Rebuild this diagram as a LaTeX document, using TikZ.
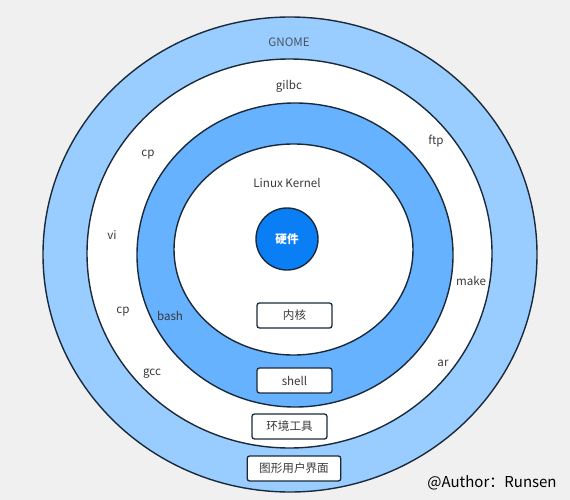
\documentclass[tikz,border=0pt]{standalone}
\usepackage{fontspec}
\setmainfont{Noto Sans CJK SC}
\usepackage{xcolor}
\definecolor{paper}{HTML}{F0F0F0}
\definecolor{edge}{HTML}{1B2A3A}
\definecolor{lightblue}{HTML}{99CCFF}
\definecolor{midblue}{HTML}{66B2FF}
\definecolor{hwblue}{HTML}{0A7FF5}
\definecolor{txt}{HTML}{3A3A3A}
\tikzset{
  ring/.style={draw=edge,line width=1.4pt},
  lbl/.style={text=txt,font=\fontsize{11.6}{13}\selectfont},
  box/.style={draw=edge,fill=white,rounded corners=2.5pt,line width=1.3pt,
    minimum width=75pt,minimum height=25pt,inner xsep=12pt,text=txt,
    font=\fontsize{11.6}{13}\selectfont}
}
\begin{document}
\begin{tikzpicture}[x=1pt,y=-1pt]
        \fill[paper] (0,0) rectangle (570,500);
        \useasboundingbox (0,0) rectangle (570,500);
        % rings, outside in
        \draw[ring,fill=lightblue] (290,254.5) ellipse [x radius=247, y radius=237.5];
        \draw[ring,fill=white] (289.5,253.5) ellipse [x radius=202.5, y radius=194.5];
        \draw[ring,fill=midblue] (295,255) ellipse [x radius=158, y radius=152];
        \draw[ring,fill=white] (293.5,249.5) ellipse [x radius=119.5, y radius=105.5];
        \node[circle,draw=edge,line width=1.4pt,fill=hwblue,minimum size=62pt,
              text=white,font=\fontsize{11.6}{13}\selectfont\bfseries] (hw) at (287,239) {硬件};
        % labels
        \node[lbl,text=edge!80] (gnome) at (289,42) {GNOME};
        \node[lbl] (gilbc) at (289,86) {gilbc};
        \node[lbl] (cpup) at (148,155) {cp};
        \node[lbl] (ftp) at (436,141) {ftp};
        \node[lbl] (vi) at (112,235) {vi};
        \node[lbl] (kernel) at (287,183) {Linux Kernel};
        \node[lbl] (make) at (471,281) {make};
        \node[lbl] (cplow) at (123,312) {cp};
        \node[lbl] (bash) at (170,316) {bash};
        \node[lbl] (gcc) at (152,374) {gcc};
        \node[lbl] (ar) at (443,363) {ar};
        % boxes
        \node[box] (core) at (294.5,315.5) {内核};
        \node[box] (shell) at (294.5,380.5) {shell};
        \node[box] (tools) at (289.5,426.5) {环境工具};
        \node[box] (gui) at (294,468.5) {图形用户界面};
        \node[font=\fontsize{15}{17}\selectfont] (author) at (492,483) {@Author：Runsen};
\end{tikzpicture}
\end{document}
